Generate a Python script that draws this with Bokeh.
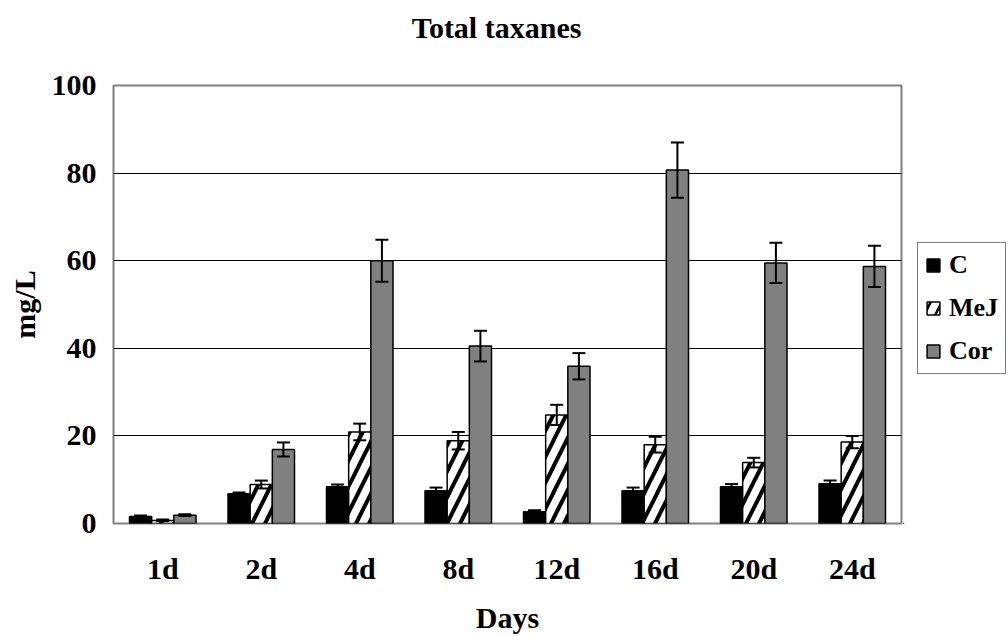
from bokeh.plotting import figure
from bokeh.models import (ColumnDataSource, Whisker, TeeHead, Legend, LegendItem,
                          FixedTicker, Range1d)
from bokeh.layouts import column, row
from bokeh.core.properties import value
from bokeh.transform import dodge
from bokeh.embed import file_html
from bokeh.resources import INLINE

days = ["1d", "2d", "4d", "8d", "12d", "16d", "20d", "24d"]
c_vals = [1.6, 6.8, 8.4, 7.5, 2.7, 7.5, 8.4, 9.1]
c_err = [0.2, 0.3, 0.5, 0.7, 0.3, 0.7, 0.6, 0.7]
mej_vals = [0.7, 8.9, 20.9, 18.9, 24.8, 18.0, 13.9, 18.6]
mej_err = [0.2, 0.9, 1.9, 2.0, 2.3, 1.8, 1.1, 1.4]
cor_vals = [1.9, 16.9, 60.0, 40.5, 35.9, 80.7, 59.5, 58.7]
cor_err = [0.2, 1.6, 4.8, 3.5, 3.0, 6.3, 4.6, 4.7]
y_ticks = [0, 20, 40, 60, 80, 100]
series_names = ["C", "MeJ", "Cor"]
title_text = "Total taxanes"

FONT = "Liberation Serif"
COLORS = dict(C="black", MeJ="white", Cor="#808080")

src = ColumnDataSource(dict(
    day=days,
    c=c_vals, c_lo=[v - e for v, e in zip(c_vals, c_err)], c_hi=[v + e for v, e in zip(c_vals, c_err)],
    m=mej_vals, m_lo=[v - e for v, e in zip(mej_vals, mej_err)], m_hi=[v + e for v, e in zip(mej_vals, mej_err)],
    r=cor_vals, r_lo=[v - e for v, e in zip(cor_vals, cor_err)], r_hi=[v + e for v, e in zip(cor_vals, cor_err)],
))

TOP_H = 50

# ---- title strip ----
tfig = figure(width=1008, height=TOP_H, x_range=Range1d(0, 1008), y_range=Range1d(0, TOP_H),
              output_backend="svg", toolbar_location=None,
              x_axis_type=None, y_axis_type=None, min_border=0)
tfig.outline_line_color = None
tfig.grid.visible = False
tfig.text(x=[496], y=[TOP_H - 27], text=[title_text], text_font=value(FONT),
          text_font_style="bold", text_font_size="30px", text_color="black",
          text_align="center", text_baseline="middle")

# ---- main chart ----
p = figure(x_range=days, y_range=(0, 100), width=903, height=636 - TOP_H,
           output_backend="svg", toolbar_location=None,
           min_border_left=113, min_border_right=2, min_border_top=85 - TOP_H, min_border_bottom=111)

w = 0.225
common = dict(source=src, width=w, line_color="black", line_width=1.5)
b1 = p.vbar(x=dodge("day", -w, range=p.x_range), top="c", fill_color=COLORS["C"], **common)
b2 = p.vbar(x=dodge("day", 0, range=p.x_range), top="m", fill_color=COLORS["MeJ"],
            hatch_pattern="/", hatch_color="black", hatch_scale=26, hatch_weight=4, **common)
b3 = p.vbar(x=dodge("day", w, range=p.x_range), top="r", fill_color=COLORS["Cor"], **common)

for off, lo, hi in [(-w, "c_lo", "c_hi"), (0, "m_lo", "m_hi"), (w, "r_lo", "r_hi")]:
    wh = Whisker(base=dodge("day", off, range=p.x_range), lower=lo, upper=hi, source=src,
                 line_color="black", line_width=2, level="overlay",
                 upper_head=TeeHead(size=13, line_color="black", line_width=2),
                 lower_head=TeeHead(size=13, line_color="black", line_width=2))
    p.add_layout(wh)

p.outline_line_color = "#808080"
p.outline_line_width = 2
p.xgrid.grid_line_color = None
p.ygrid.ticker = FixedTicker(ticks=[20, 40, 60, 80])
p.ygrid.grid_line_color = "black"
p.ygrid.grid_line_width = 1

p.yaxis.ticker = FixedTicker(ticks=y_ticks)
for ax in (p.xaxis, p.yaxis):
    ax.axis_line_color = None
    ax.major_tick_line_color = None
    ax.minor_tick_line_color = None
    ax.major_label_text_font = FONT
    ax.major_label_text_font_style = "bold"
    ax.major_label_text_font_size = "30px"
    ax.major_label_text_color = "black"
    ax.axis_label_text_font = FONT
    ax.axis_label_text_font_style = "bold"
    ax.axis_label_text_font_size = "30px"
    ax.axis_label_text_color = "black"

p.yaxis.axis_label = "mg/L"
p.yaxis.major_label_standoff = 11
p.yaxis.axis_label_standoff = 8
p.xaxis.axis_label = "Days"
p.xaxis.major_label_standoff = 22
p.xaxis.axis_label_standoff = 13

# ---- legend strip (proxy glyphs sit outside the strip's visible range) ----
lfig = figure(width=1008 - 903, height=636 - TOP_H, x_range=Range1d(0, 1), y_range=Range1d(0, 1),
              output_backend="svg", toolbar_location=None,
              x_axis_type=None, y_axis_type=None, min_border=0)
lfig.outline_line_color = None
lfig.grid.visible = False
proxy = ColumnDataSource(dict(x=[-5], top=[-5]))
pstyle = dict(x="x", top="top", width=0.1, source=proxy, line_color="black", line_width=1.5)
l1 = lfig.vbar(fill_color=COLORS["C"], **pstyle)
l2 = lfig.vbar(fill_color=COLORS["MeJ"], hatch_pattern="/", hatch_color="black",
               hatch_scale=22, hatch_weight=2.5, **pstyle)
l3 = lfig.vbar(fill_color=COLORS["Cor"], **pstyle)

legend = Legend(items=[LegendItem(label=series_names[0], renderers=[l1]),
                       LegendItem(label=series_names[1], renderers=[l2]),
                       LegendItem(label=series_names[2], renderers=[l3])],
                location=(14, 149))
legend.label_text_font = FONT
legend.label_text_font_style = "bold"
legend.label_text_font_size = "26px"
legend.label_text_color = "black"
legend.glyph_width = 16
legend.glyph_height = 16
legend.label_height = 30
legend.spacing = 13
legend.padding = 7
legend.margin = 0
legend.label_standoff = 8
legend.border_line_color = "black"
legend.border_line_width = 1.5
legend.background_fill_alpha = 1
lfig.add_layout(legend, "center")

layout = column(tfig, row(p, lfig, spacing=0), spacing=0)

open("out.html", "w").write(file_html(layout, INLINE))
